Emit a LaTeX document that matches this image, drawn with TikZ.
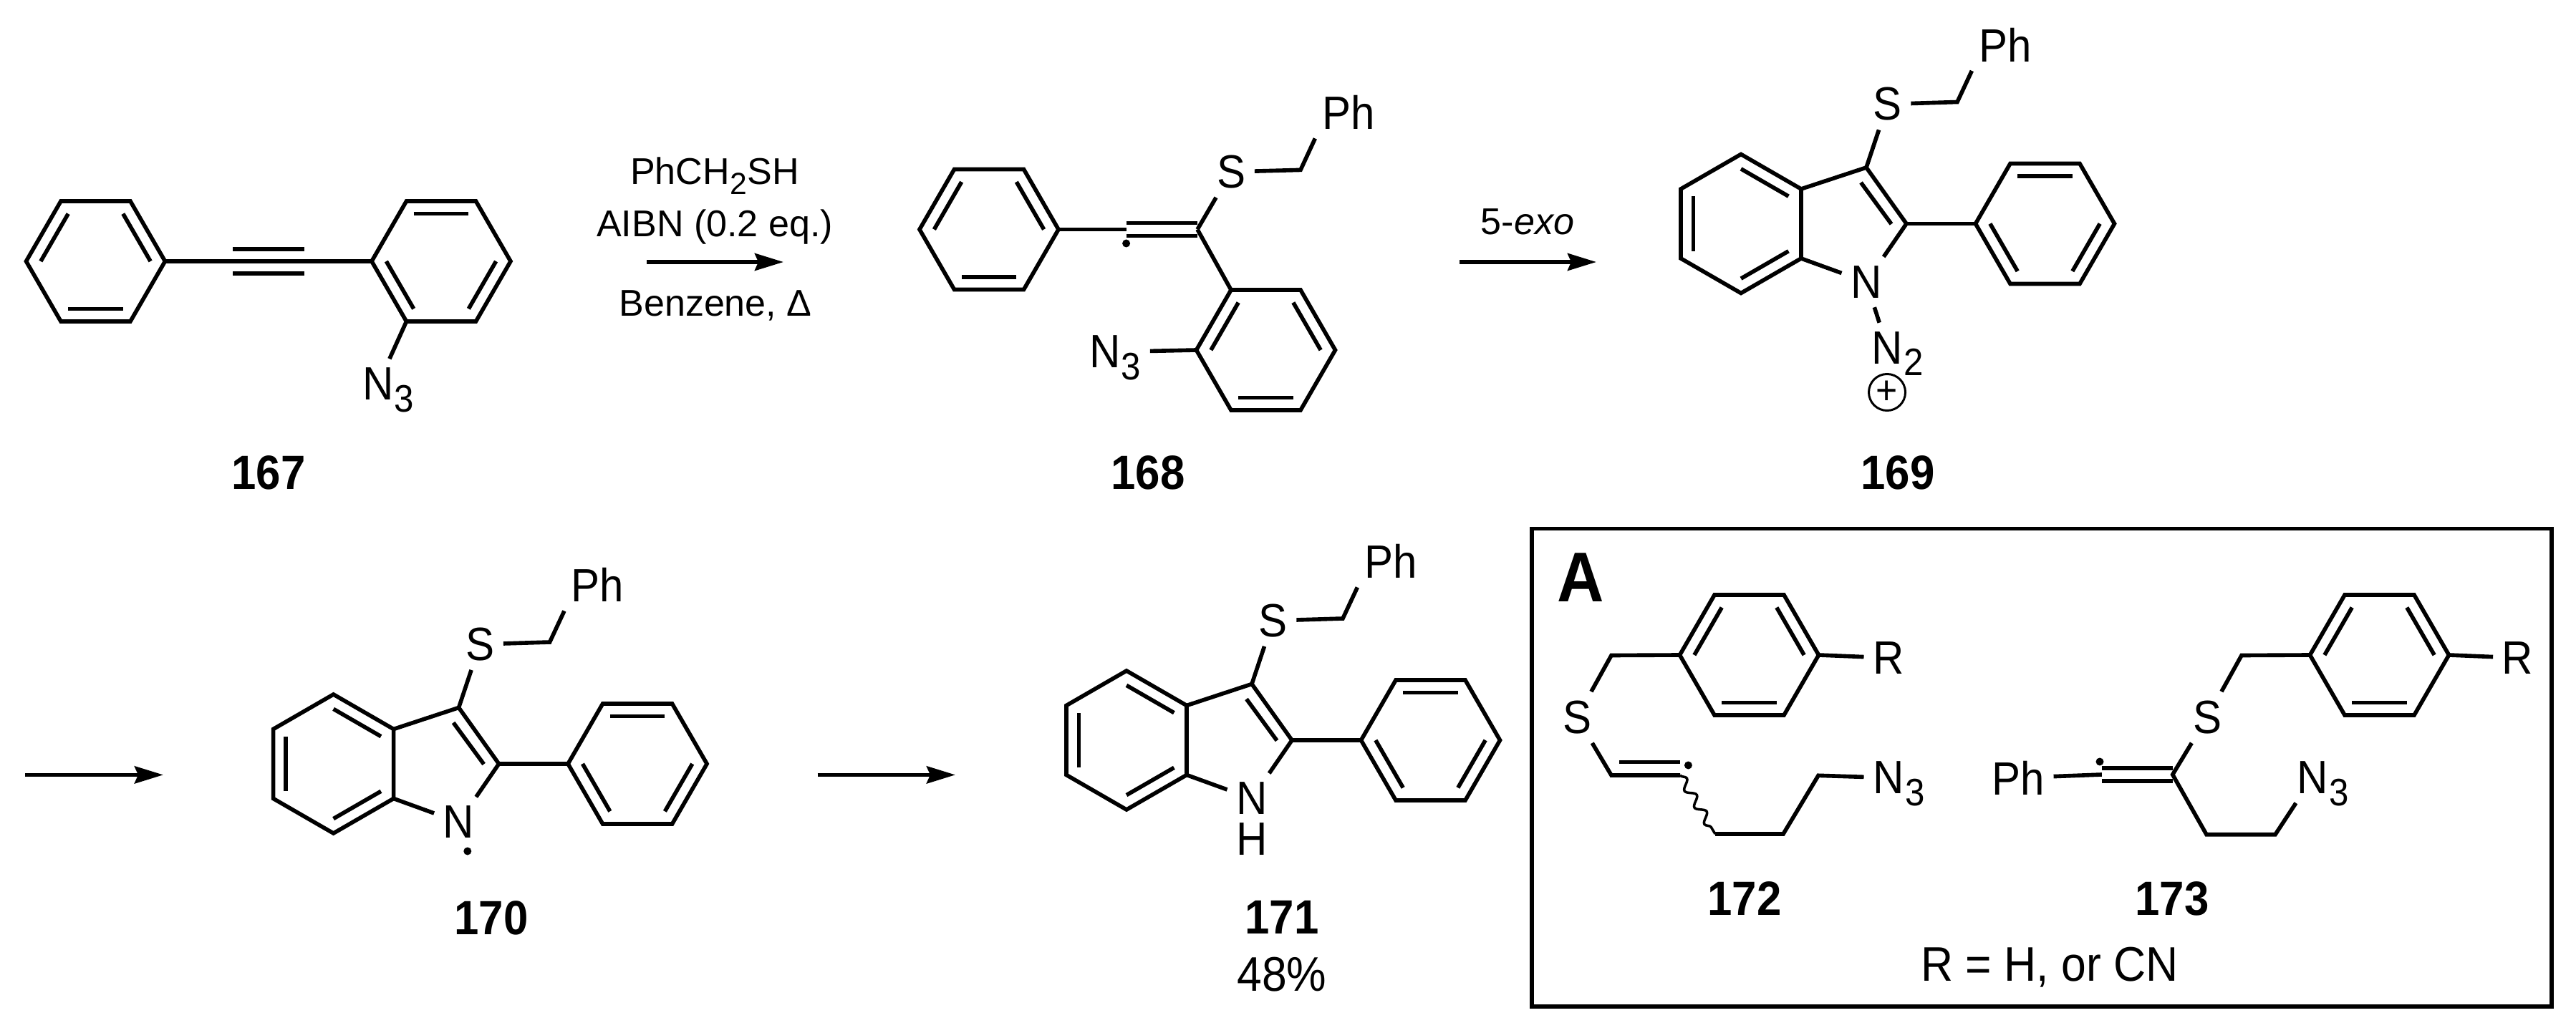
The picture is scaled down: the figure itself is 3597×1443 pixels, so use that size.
\documentclass[tikz,border=0pt]{standalone}
\usepackage{fontspec}
\setmainfont[FakeStretch=0.92]{Liberation Sans}
\newfontfamily\reagentfont{Liberation Sans}
\usetikzlibrary{arrows.meta,calc,decorations.pathmorphing}

\begin{document}
\begin{tikzpicture}[x=0.01cm, y=-0.01cm, line width=1.6pt,
  atom/.style={inner sep=0.1cm, font=\fontsize{18.55}{20}\selectfont},
  cpd/.style={anchor=base, inner sep=0, font=\fontsize{19.1}{20}\selectfont\bfseries},
  plaintext/.style={anchor=base, inner sep=0, font=\fontsize{19.3}{20}\selectfont},
  reagent/.style={anchor=base, inner sep=0, font=\reagentfont\fontsize{14.8}{17}\selectfont},
  radical/.style={circle, fill=black, inner sep=0, minimum size=0.11cm},
  rxn/.style={->, >={Stealth[length=0.4cm, width=0.24cm, inset=0.05cm]}},
  wavy/.style={line width=1pt, decorate, decoration={snake, amplitude=0.06cm, segment length=0.27cm}}]

\useasboundingbox (0,0) rectangle (3597,1443);

\def \rad {97}
\def \inner {0.79} % inner bond of a ring, as a part of the radius
\def \dbl {0.09cm} % half the gap of a double bond
\def \subs #1{\smash{\kern0.02em\raisebox{-0.25em}{\scalebox{0.82}{#1}}}}
\def \atomsub #1{\rlap{\subs{#1}}}

% centre x, centre y, turn, name, sides with an inner bond
\def \hexring #1#2#3#4#5{
  \coordinate (#4c) at (#1,#2);
  \foreach \k in {1,...,6}
    \coordinate (#4\k) at ({#1+\rad*cos(60*\k+#3)},{#2+\rad*sin(60*\k+#3)});
  \draw (#41) -- (#42) -- (#43) -- (#44) -- (#45) -- (#46) -- cycle;
  \foreach \s [evaluate=\s as \e using {int(mod(\s,6)+1)}] in {#5}
    \draw ($(#4c)!\inner!(#4\s)$) -- ($(#4c)!\inner!(#4\e)$);
}

% the 3-benzylthio-2-phenylindole part, centred on its benzo ring
\def \indolyl #1#2{
  \begin{scope}[shift={(#1)}]
    \hexring{0}{0}{30}{#2b}{2,4,6}
    \hexring{424.5}{0}{0}{#2p}{4,2,6}
    \coordinate (#2c3) at (175,-78.5);
    \coordinate (#2c2) at (231,0);
    \coordinate (#2ch) at (302,-170);
    \node[atom] (#2n) at (175,81.5) {N};
    \node[atom] (#2s) at (204.5,-167) {S};
    \node[atom] (#2ph) at (369,-250) {Ph};
    \draw (#2b5) -- (#2c3) -- (#2c2) -- (#2n);
    \draw (#2n) -- (#2b6);
    \draw (#2c2) -- (#2p3);
    \draw (167.5,-57.5) -- (210,0.5);
    \draw (#2c3) -- (#2s);
    \draw (#2s) -- (#2ch) -- (#2ph.218);
  \end{scope}
}

% 167
\hexring{133.5}{365}{0}{ma}{3,5,1}
\hexring{616}{365}{0}{mb}{4,2,6}
\node[atom] (maz) at (528,536.5) {N\atomsub{3}};
\draw (ma6) -- (mb3);
\draw (325,348) -- (425,348);
\draw (325,382) -- (425,382);
\draw (mb2) -- (maz);

% 168
\hexring{1381}{320.5}{0}{va}{3,5,1}
\hexring{1767.5}{489}{0}{vb}{3,5,1}
\coordinate (vr) at (1572.6,320.5);
\coordinate (vc) at (1672,320.5);
\coordinate (vch) at (1816,237.4);
\node[atom] (vs) at (1719,240) {S};
\node[atom] (vph) at (1883,157) {Ph};
\node[atom] (vaz) at (1557,491.5) {N\subs{3}};
\node[radical] (vdot) at (1572.6,340) {};
\draw (va6) -- (vr);
\draw ([yshift=\dbl]vr) -- ([yshift=\dbl]vc);
\draw ([yshift=-\dbl]vr) -- ([yshift=-\dbl]vc);
\draw (vc) -- (vs);
\draw (vs) -- (vch) -- (vph.218);
\draw (vc) -- (vb4);
\draw (vb3) -- (vaz);

% 169
\indolyl{2431,312.5}{d}
\node[atom] (dnn) at (2635.5,486) {N\atomsub{2}};
\node[draw, circle, inner sep=0, minimum size=0.51cm, line width=0.85pt,
  font=\fontsize{16}{16}\selectfont] (dchg) at (2635,548) {+};
\draw (dn) -- (dnn);

% 170
\indolyl{465.6,1067}{e}
\node[radical] (edot) at (652.8,1189) {};

% 171
\indolyl{1573,1034}{h}
\node[atom] (hh) at (1748,1172) {H};

% box A
\draw (2139,738.4) rectangle (3563,1406);
\node[anchor=base, inner sep=0, font=\fontsize{28}{30}\selectfont\bfseries] (boxa) at (2207.6,840) {A};

% 172
\hexring{2442.5}{915}{0}{ra}{3,5,1}
\coordinate (rch) at (2250,915.5);
\coordinate (rv) at (2250,1083);
\coordinate (rw) at (2346,1083);
\coordinate (rp) at (2395,1165);
\coordinate (rq) at (2490,1165);
\coordinate (rt) at (2539,1083.3);
\node[atom] (rs) at (2202,1002) {S};
\node[atom] (rr) at (2637,919) {R};
\node[atom] (raz) at (2637,1086.5) {N\atomsub{3}};
\node[radical] (rdot) at (2357.4,1069) {};
\draw (ra6) -- (rr);
\draw (ra3) -- (rch) -- (rs);
\draw (rs) -- (rv) -- (rw);
\draw (2261,1064.4) -- (2346,1064.4);
\draw[wavy] (rw) -- (rp);
\draw (rp) -- (rq) -- (rt) -- (raz);

% 173
\hexring{3322.5}{915}{0}{sa}{3,5,1}
\coordinate (sch) at (3130,915.5);
\coordinate (sv) at (3033.7,1082);
\coordinate (su) at (2934.8,1082);
\coordinate (sp) at (3081,1165.8);
\coordinate (sq) at (3177,1165.8);
\node[atom] (ss) at (3082,1002) {S};
\node[atom] (sr) at (3515.6,919) {R};
\node[atom] (sph) at (2818,1086.5) {Ph};
\node[atom] (saz) at (3229,1086.5) {N\atomsub{3}};
\node[radical] (sdot) at (2932,1064) {};
\draw (sa6) -- (sr);
\draw (sa3) -- (sch) -- (ss);
\draw (ss) -- (sv) -- (sp) -- (sq) -- (saz);
\draw (sph) -- (su);
\draw ([yshift=\dbl]su) -- ([yshift=\dbl]sv);
\draw ([yshift=-\dbl]su) -- ([yshift=-\dbl]sv);

% arrows
\foreach \name/\xa/\xb/\y in {a/903/1094/366, b/2038/2229/366, c/35/228/1082.4, d/1141.5/1334/1082.4}
{
  \coordinate (arr\name s) at (\xa,\y);
  \coordinate (arr\name e) at (\xb,\y);
  \draw[rxn] (arr\name s) -- (arr\name e);
}

% texts
\foreach \num/\x/\y in {167/375/684, 168/1603/684, 169/2650/684, 170/686/1305.5, 171/1790/1304.6, 172/2436/1278.8, 173/3033/1278.8}
  \node[cpd] (lbl\num) at (\x,\y) {\num};

\node[reagent] (rgta) at (998,258) {PhCH\subs{2}SH};
\node[reagent] (rgtb) at (998,331) {AIBN (0.2 eq.)};
\node[reagent] (rgtc) at (999,442) {Benzene, Δ};
\node[reagent] (rgtd) at (2133,328) {5-\textit{exo}};
\node[plaintext] (yld) at (1790,1384) {48\%};
\node[plaintext] (rdef) at (2862,1370) {R = H, or CN};

\end{tikzpicture}
\end{document}
